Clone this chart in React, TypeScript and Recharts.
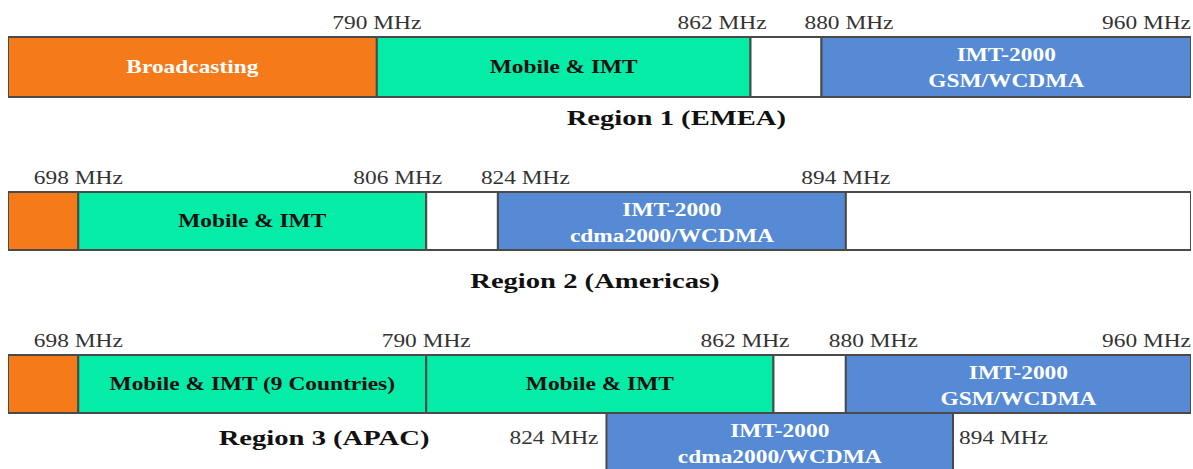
import { BarChart, Bar, XAxis, YAxis } from "recharts";

// schematic band widths (diagram units, each row spans 17)
const TOTAL = 17;

// Region 1 (EMEA)
const r1Bands = ["Broadcasting", "Mobile & IMT", "", "IMT-2000\nGSM/WCDMA"];
const r1Widths = [5.3, 5.37, 1.02, 5.31];
const r1Kinds = ["broadcast", "mobile", "free", "imt"];
const r1Edges = ["790 MHz", "862 MHz", "880 MHz", "960 MHz"];

// Region 2 (Americas)
const r2Bands = ["", "Mobile & IMT", "", "IMT-2000\ncdma2000/WCDMA", ""];
const r2Widths = [1.01, 5, 1.03, 5, 4.96];
const r2Kinds = ["broadcast", "mobile", "free", "imt", "free"];
const r2Edges = ["698 MHz", "806 MHz", "824 MHz", "894 MHz", ""];

// Region 3 (APAC)
const r3Bands = ["", "Mobile & IMT (9 Countries)", "Mobile & IMT", "", "IMT-2000\nGSM/WCDMA"];
const r3Widths = [1.01, 5, 4.99, 1.04, 4.96];
const r3Kinds = ["broadcast", "mobile", "mobile", "free", "imt"];
const r3Edges = ["698 MHz", "790 MHz", "862 MHz", "880 MHz", "960 MHz"];

// Region 3, second row (824-894 MHz)
const r3bBands = ["", "IMT-2000\ncdma2000/WCDMA"];
const r3bWidths = [8.6, 4.98];
const r3bKinds = ["gap", "imt"];
const r3bEdges = ["824 MHz", "894 MHz"];

const titles = ["Region 1 (EMEA)", "Region 2 (Americas)", "Region 3 (APAC)"];

const FILL: Record<string, string> = {
  broadcast: "#F47A1A",
  mobile: "#05ECA7",
  free: "#FFFFFF",
  imt: "#568AD4",
  gap: "none",
};
const TEXT: Record<string, string> = {
  broadcast: "#FFFFFF",
  mobile: "#111111",
  free: "#111111",
  imt: "#FFFFFF",
  gap: "#111111",
};
const FONT = "'Liberation Serif', 'Times New Roman', serif";
const SX = 1.3;

interface RowDef {
  id: string;
  bands: string[];
  widths: number[];
  kinds: string[];
  edges: string[];
  side?: boolean;
}

const rowDefs: Record<string, RowDef> = {
  r1: { id: "r1", bands: r1Bands, widths: r1Widths, kinds: r1Kinds, edges: r1Edges },
  r2: { id: "r2", bands: r2Bands, widths: r2Widths, kinds: r2Kinds, edges: r2Edges },
  r3: { id: "r3", bands: r3Bands, widths: r3Widths, kinds: r3Kinds, edges: r3Edges },
  r3b: { id: "r3b", bands: r3bBands, widths: r3bWidths, kinds: r3bKinds, edges: r3bEdges, side: true },
};

const toDatum = (r: RowDef) => {
  const d: any = { row: r.id };
  r.widths.forEach((w, i) => (d[`s${i}`] = w));
  return d;
};

const Txt = ({ x, y, anchor = "middle", size = 18, weight = "normal", fill = "#333", children }: any) => (
  <g transform={`translate(${x},${y}) scale(${SX},1)`}>
    <text
      x={0}
      y={0}
      textAnchor={anchor}
      dominantBaseline="central"
      fontFamily={FONT}
      fontSize={size}
      fontWeight={weight}
      fill={fill}
    >
      {children}
    </text>
  </g>
);

const makeShape = (k: number) => (props: any) => {
  const { x, y, width, height } = props;
  const row = props.payload?.row ?? props.row;
  const def = rowDefs[row];
  if (!def || width == null) return <g />;
  const kind = def.kinds[k];
  const n = def.widths.length;

  // band name inside the segment
  const lines = def.bands[k] ? def.bands[k].split("\n") : [];
  const bandText = lines.map((line, i) => (
    <Txt
      key={i}
      x={x + width / 2}
      y={lines.length === 1 ? y + height / 2 : y + 18 + i * 26}
      weight="bold"
      fill={TEXT[kind]}
    >
      {line}
    </Txt>
  ));

  // frequency label at the right edge of the segment
  let edge = null;
  const label = def.edges[k];
  if (label) {
    if (def.side) {
      edge =
        kind === "gap" ? (
          <Txt x={x + width - 8} y={y + 25} anchor="end">{label}</Txt>
        ) : (
          <Txt x={x + width + 6} y={y + 25} anchor="start">{label}</Txt>
        );
    } else {
      let ex = x + width;
      let anchor = "middle";
      const narrowNext = k + 1 < n && def.widths[k + 1] < 1.5 && def.edges[k + 1];
      const narrowHere = k > 0 && def.widths[k] < 1.5 && def.edges[k - 1];
      if (k === n - 1) anchor = "end";
      else if (narrowNext) {
        anchor = "end";
        ex += 16;
      } else if (narrowHere) {
        anchor = "start";
        ex -= 17;
      }
      edge = <Txt x={ex} y={y - 14} anchor={anchor}>{label}</Txt>;
    }
  }

  return (
    <g>
      <rect
        x={x}
        y={y}
        width={width}
        height={height}
        fill={FILL[kind]}
        stroke={kind === "gap" ? "none" : "#4a4a4a"}
        strokeWidth={2}
      />
      {bandText}
      {edge}
    </g>
  );
};

const charts = [
  { rows: ["r1"], top: 8, marginTop: 29, barH: 60 },
  { rows: ["r2"], top: 158, marginTop: 34, barH: 58 },
  { rows: ["r3", "r3b"], top: 318, marginTop: 37, barH: 58 },
];

const titlePos = [
  { cx: 676, cy: 118 },
  { cx: 595, cy: 281 },
  { cx: 324, cy: 438 },
];

const BandChart = ({ rows, top, marginTop, barH }: any) => {
  const data = rows.map((id: string) => toDatum(rowDefs[id]));
  const segs = Math.max(...rows.map((id: string) => rowDefs[id].widths.length));
  const height = marginTop + barH * rows.length + 10;
  return (
    <div style={{ position: "absolute", left: 8, top }}>
      <BarChart
        width={1185}
        height={height}
        data={data}
        layout="vertical"
        barCategoryGap={0}
        barGap={0}
        margin={{ top: marginTop, right: 2, bottom: 10, left: 0 }}
      >
        <XAxis type="number" domain={[0, TOTAL]} allowDataOverflow hide />
        <YAxis type="category" dataKey="row" hide width={0} />
        {Array.from({ length: segs }, (_, k) => (
          <Bar
            key={k}
            dataKey={`s${k}`}
            stackId="band"
            isAnimationActive={false}
            shape={makeShape(k)}
          />
        ))}
      </BarChart>
    </div>
  );
};

export default function App() {
  return (
    <div
      style={{
        position: "fixed",
        left: 0,
        top: 0,
        width: 1193,
        height: 469,
        overflow: "hidden",
        background: "#fff",
      }}
    >
      {charts.map((c, i) => (
        <BandChart key={i} {...c} />
      ))}
      {titles.map((t, i) => (
        <div
          key={t}
          style={{
            position: "absolute",
            left: titlePos[i].cx - 300,
            top: titlePos[i].cy - 13,
            width: 600,
            lineHeight: "26px",
            textAlign: "center",
            fontFamily: FONT,
            fontWeight: "bold",
            fontSize: 22,
            color: "#111",
          }}
        >
          <span style={{ display: "inline-block", transform: `scaleX(${SX})` }}>{t}</span>
        </div>
      ))}
    </div>
  );
}
